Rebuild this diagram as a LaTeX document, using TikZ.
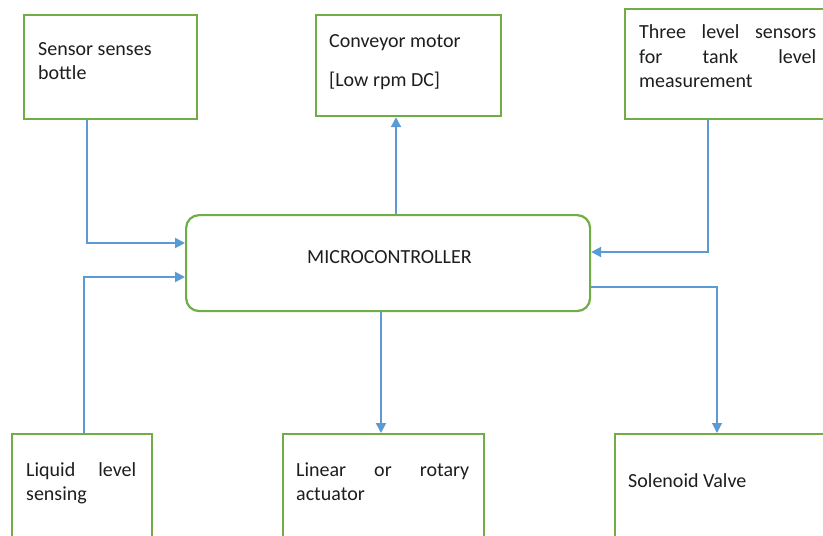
\documentclass[tikz,border=0pt]{standalone}
\usepackage{fontspec}
\setmainfont{Carlito}
\usetikzlibrary{arrows.meta}
\definecolor{boxgreen}{RGB}{112,173,71}
\definecolor{lineblue}{RGB}{91,155,213}
\definecolor{txtcol}{RGB}{30,30,30}
\begin{document}
\begin{tikzpicture}[x=1pt,y=-1pt,
  box/.style={draw=boxgreen, line width=2.2pt, fill=white, inner sep=0pt, anchor=north west},
  conn/.style={draw=lineblue, line width=2pt, -{Triangle[length=10pt,width=10pt]}},
  thinconn/.style={draw=lineblue, line width=1.1pt, -{Triangle[length=10pt,width=10pt]}},
  txt/.style={inner sep=0pt, anchor=base west, text=txtcol, font=\fontsize{20}{24.5}\selectfont}]
\useasboundingbox (0,0) rectangle (823,536);
\clip (0,0) rectangle (823,536);
\fill[white] (0,0) rectangle (823,536);
% boxes
\node[box, minimum width=173, minimum height=104] (b1) at (23,14) {};
\node[box, minimum width=185, minimum height=101] (b2) at (315,14) {};
\node[box, minimum width=216, minimum height=110] (b3) at (624,8) {};
\node[box, minimum width=404, minimum height=96, rounded corners=13pt] (mcu) at (185,214) {};
\node[box, minimum width=140, minimum height=130] (b4) at (11,433) {};
\node[box, minimum width=201, minimum height=130] (b5) at (282,433) {};
\node[box, minimum width=230, minimum height=130] (b6) at (614,433) {};
% texts
\node[txt] (t1) at (38,55) {\begin{tabular}[t]{@{}l@{}}Sensor senses\\bottle\end{tabular}};
\node[txt] (t2) at (329,47) {\begin{tabular}[t]{@{}l@{}}Conveyor motor\\[14.5pt]{[}Low rpm DC{]}\end{tabular}};
\node[txt] (t3) at (639,38.5) {\begin{tabular}[t]{@{}l@{}}\makebox[177pt][s]{Three level sensors}\\\makebox[177pt][s]{for tank level}\\measurement\end{tabular}};
\node[txt] (tm) at (307,263) {MICROCONTROLLER};
\node[txt] (t4) at (26,476) {\begin{tabular}[t]{@{}l@{}}\makebox[110pt][s]{Liquid level}\\sensing\end{tabular}};
\node[txt] (t5) at (296,476) {\begin{tabular}[t]{@{}l@{}}\makebox[173pt][s]{Linear or rotary}\\actuator\end{tabular}};
\node[txt] (t6) at (628,487) {Solenoid Valve};
% connector bends
\coordinate (c1) at (87,243);
\coordinate (c2) at (84,277);
\coordinate (c3) at (396,160);
\coordinate (c4) at (708,252);
\coordinate (c5) at (717,287);
\coordinate (c6) at (381,370);
% connectors
\draw[conn] (b1.south -| c1) |- (mcu.west |- c1);
\draw[conn] (b4.north -| c2) |- (mcu.west |- c2);
\draw[conn] (mcu.north -| c3) -- (b2.south -| c3);
\draw[conn] (b3.south -| c4) |- (mcu.east |- c4);
\draw[thinconn] (mcu.east |- c5) -| (b6.north -| c5);
\draw[conn] (mcu.south -| c6) -- (b5.north -| c6);
\end{tikzpicture}
\end{document}
